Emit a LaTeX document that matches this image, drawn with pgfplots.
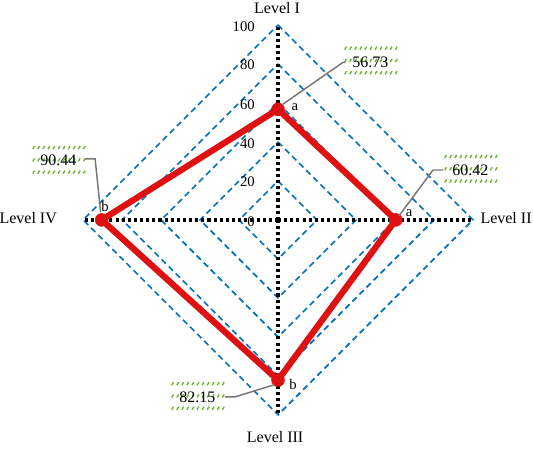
\documentclass[border=0pt]{standalone}
\usepackage{fontspec}
\setmainfont{Liberation Serif}
\usepackage{pgfplots}
\pgfplotsset{compat=1.18}

\definecolor{gridblue}{RGB}{0,112,192}
\definecolor{radred}{RGB}{222,16,16}
\definecolor{hatchgreen}{RGB}{112,173,40}
\definecolor{leadgray}{RGB}{118,118,118}

% hatched label background, centre given in data units
\newcommand{\hatchbox}[2]{%
  \foreach \r in {-6.3,0,6.3}{%
    \foreach \i in {0,...,10}{%
      \draw[hatchgreen,line width=1pt] ({#1-13.2+\i*2.6},{#2+\r-0.8}) -- ++(0.9,1.6);
    }}}

\begin{document}
\begin{tikzpicture}
\begin{axis}[
  name=ax, scale only axis, hide axis, clip=false,
  x=1.4625pt, y=1.4625pt,
  xmin=-142.6, xmax=130.8, ymin=-117.4, ymax=112.8,
]
% diamond grid
\addplot[gridblue, line width=1.2pt, dash pattern=on 4.5pt off 3pt] coordinates {(0,20)(20,0)(0,-20)(-20,0)(0,20)};
\addplot[gridblue, line width=1.2pt, dash pattern=on 4.5pt off 3pt] coordinates {(0,40)(40,0)(0,-40)(-40,0)(0,40)};
\addplot[gridblue, line width=1.2pt, dash pattern=on 4.5pt off 3pt] coordinates {(0,60)(60,0)(0,-60)(-60,0)(0,60)};
\addplot[gridblue, line width=1.2pt, dash pattern=on 4.5pt off 3pt] coordinates {(0,80)(80,0)(0,-80)(-80,0)(0,80)};
\addplot[gridblue, line width=1.2pt, dash pattern=on 4.5pt off 3pt] coordinates {(0,100)(100,0)(0,-100)(-100,0)(0,100)};
% spokes
\addplot[black, line width=2.6pt, dash pattern=on 2.3pt off 2.3pt] coordinates {(0,0)(0,100)};
\addplot[black, line width=2.6pt, dash pattern=on 2.3pt off 2.3pt] coordinates {(0,0)(0,-100)};
\addplot[black, line width=2.6pt, dash pattern=on 2.3pt off 2.3pt] coordinates {(0,0)(100,0)};
\addplot[black, line width=2.6pt, dash pattern=on 2.3pt off 2.3pt] coordinates {(0,0)(-100,0)};
% data
\addplot[radred, line width=4.7pt, line join=round, mark=*, mark size=4.8pt,
  mark options={solid, fill=radred, draw=radred, line width=0.5pt}]
  coordinates {(0,56.73)(60.42,0)(0,-82.15)(-90.44,0)} -- cycle;
\coordinate (O) at (axis cs:0,0);
\end{axis}

\begin{scope}[shift={(O)}, x=1.4625pt, y=1.4625pt]
% value boxes
\hatchbox{47.4}{81.8}
\hatchbox{98.7}{26.2}
\hatchbox{-112.6}{30.8}
\hatchbox{-41.3}{-90.3}
% leader lines
\draw[leadgray, line width=1.1pt] (2,59) -- (33.3,80.8) -- (34.5,80.8);
\draw[leadgray, line width=1.1pt] (62,2) -- (79.5,25.6) -- (84.6,25.6);
\draw[leadgray, line width=1.1pt] (-99,31.3) -- (-93.8,31.3) -- (-91,4);
\draw[leadgray, line width=1.1pt] (-27.2,-90.8) -- (-22.1,-90.8) -- (-2,-84.6);
\begin{scope}[every node/.style={font=\fontsize{12}{14}\selectfont, inner sep=0pt}]
\node at (47.4,80.8) {56.73};
\node at (98.7,25.6) {60.42};
\node at (-112.6,30.6) {90.44};
\node at (-41.3,-91) {82.15};
\end{scope}
% significance letters
\begin{scope}[every node/.style={font=\fontsize{11}{13}\selectfont, inner sep=0pt}]
\node at (8.7,58) {a};
\node at (67.2,3.5) {a};
\node at (7.7,-84.6) {b};
\node at (-88.7,6.9) {b};
\end{scope}
% radial tick labels
\begin{scope}[every node/.style={font=\fontsize{11}{13}\selectfont, inner sep=0pt, anchor=east}]
\node at (-11.8,99) {100};
\node at (-11.8,79.5) {80};
\node at (-11.8,58.9) {60};
\node at (-11.8,38.9) {40};
\node at (-11.8,19.5) {20};
\node at (-11.8,-1) {0};
\end{scope}
% level labels
\begin{scope}[every node/.style={font=\fontsize{12}{14}\selectfont, inner sep=0pt}]
\node at (-0.5,108.7) {Level I};
\node[anchor=east] at (130.2,1) {Level II};
\node at (-1.5,-111.3) {Level III};
\node[anchor=east] at (-113.3,1) {Level IV};
\end{scope}
\end{scope}

\pgfresetboundingbox
\path[use as bounding box] (ax.south west) rectangle (ax.north east);
\end{tikzpicture}
\end{document}
